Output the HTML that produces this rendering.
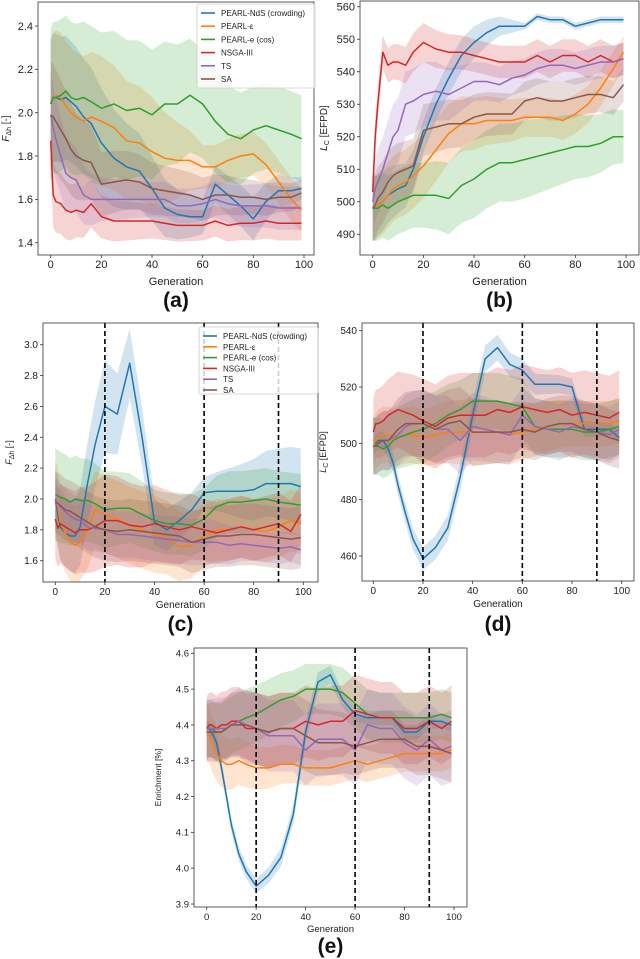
<!DOCTYPE html>
<html><head><meta charset="utf-8">
<style>
html,body{margin:0;padding:0;background:#fff;}
svg{display:block;font-family:"Liberation Sans","DejaVu Sans",sans-serif;}
</style></head>
<body>
<svg id="fig" width="640" height="959" viewBox="0 0 640 959" xmlns="http://www.w3.org/2000/svg"></svg>
<script>
const gens = [0,1,2,4,6,8,10,13,16,20,25,30,35,40,45,50,55,60,65,70,75,80,85,90,95,99];
const bandGens = [0,20,40,60,80,100];
const seriesNames = ["PEARL-NdS (crowding)","PEARL-\u03b5","PEARL-e (cos)","NSGA-III","TS","SA"];
const colors = ["#1f77b4","#ff7f0e","#2ca02c","#d62728","#9467bd","#8c564b"];

// Panel (a)
const aTicks = [1.4,1.6,1.8,2.0,2.2,2.4];
const aBlue   = [2.04,2.07,2.07,2.06,2.07,2.05,2.03,1.98,1.95,1.86,1.79,1.75,1.73,1.65,1.56,1.53,1.52,1.52,1.67,1.62,1.57,1.51,1.59,1.64,1.64,1.65];
const aOrange = [2.04,2.07,2.08,2.07,2.03,2.00,1.98,1.96,1.98,1.96,1.93,1.87,1.86,1.82,1.79,1.78,1.78,1.75,1.75,1.78,1.80,1.81,1.76,1.68,1.60,1.55];
const aGreen  = [2.04,2.07,2.07,2.08,2.10,2.07,2.06,2.07,2.05,2.02,2.04,2.01,2.02,1.99,2.04,2.04,2.08,2.04,1.96,1.90,1.88,1.92,1.94,1.92,1.90,1.88];
const aRed    = [1.87,1.62,1.59,1.58,1.55,1.54,1.55,1.54,1.58,1.52,1.50,1.50,1.50,1.50,1.49,1.48,1.48,1.48,1.50,1.48,1.49,1.49,1.50,1.49,1.49,1.49];
const aPurple = [1.99,1.93,1.88,1.80,1.72,1.70,1.69,1.62,1.60,1.60,1.60,1.60,1.60,1.60,1.60,1.57,1.57,1.58,1.60,1.58,1.57,1.57,1.57,1.56,1.56,1.56];
const aBrown  = [1.99,1.98,1.96,1.92,1.88,1.83,1.80,1.78,1.77,1.67,1.68,1.69,1.68,1.65,1.64,1.63,1.62,1.60,1.62,1.62,1.61,1.61,1.60,1.61,1.61,1.63];
const aSpread = [[.3,.25,.15,.08,.1,.05],[.3,.3,.25,.1,.1,.1],[.35,.35,.3,.25,.2,.2],[.15,.1,.08,.07,.08,.08],[.2,.1,.08,.08,.1,.1],[.25,.15,.12,.1,.08,.06]];

// Panel (b)
const bTicks = [490,500,510,520,530,540,550,560];
const bBlue   = [498,498,499,500,502,503,504,505,510,520,530,538,545,549,552,554,554,554,557,556,556,554,555,556,556,556];
const bOrange = [498,498,499,500,502,504,505,506,508,511,516,521,524,524,525,525,525,526,526,526,525,527,530,535,541,546];
const bGreen  = [498,498,498,499,498,499,500,501,502,502,502,501,505,507,510,512,512,513,514,515,516,517,517,518,520,520];
const bRed    = [503,520,530,546,542,543,543,542,546,549,547,546,546,545,544,543,543,543,545,543,545,545,543,545,543,544];
const bPurple = [500,504,506,510,515,520,522,530,531,533,534,533,535,537,537,536,538,539,541,542,542,541,542,543,543,544];
const bBrown  = [498,499,501,503,506,508,509,510,511,522,523,524,524,526,527,527,527,531,532,531,531,532,533,533,532,536];
const bSpread = [[10,5,5,1,1,1],[10,10,8,6,6,5],[10,10,12,12,10,8],[5,6,5,5,5,5],[10,10,6,5,5,5],[10,8,7,6,6,5]];

// Panel (c)
const cTicks = [1.6,1.8,2.0,2.2,2.4,2.6,2.8,3.0];
const cBlue   = [2.00,1.90,1.82,1.78,1.76,1.76,1.82,2.10,2.35,2.60,2.55,2.88,2.40,1.85,1.80,1.86,1.93,2.04,2.05,2.05,2.05,2.06,2.10,2.10,2.10,2.08];
const cOrange = [2.00,1.95,1.85,1.78,1.72,1.70,1.72,1.80,1.93,1.90,1.87,1.83,1.80,1.77,1.75,1.69,1.70,1.76,1.80,1.80,1.82,1.80,1.79,1.82,1.86,1.84];
const cGreen  = [2.03,2.02,2.01,2.00,1.98,2.00,1.99,1.99,1.97,1.93,1.94,1.94,1.90,1.86,1.84,1.84,1.83,1.87,1.95,1.98,1.98,1.99,2.00,1.98,1.97,1.96];
const cRed    = [1.87,1.81,1.84,1.82,1.80,1.78,1.80,1.80,1.82,1.86,1.86,1.83,1.82,1.84,1.82,1.80,1.82,1.80,1.78,1.80,1.82,1.80,1.82,1.84,1.79,1.90];
const cPurple = [2.00,1.97,1.95,1.92,1.89,1.87,1.86,1.82,1.81,1.80,1.77,1.77,1.76,1.75,1.74,1.73,1.72,1.72,1.72,1.70,1.71,1.70,1.69,1.68,1.69,1.67];
const cBrown  = [1.98,1.97,1.96,1.93,1.92,1.90,1.88,1.85,1.82,1.80,1.79,1.80,1.79,1.78,1.77,1.76,1.72,1.74,1.76,1.76,1.77,1.77,1.76,1.75,1.74,1.75];
const cSpread = [[.2,.3,.15,.1,.2,.25],[.25,.25,.25,.2,.2,.2],[.3,.25,.2,.2,.2,.2],[.25,.3,.25,.2,.2,.2],[.15,.15,.15,.15,.1,.1],[.2,.2,.2,.2,.2,.2]];

// Panel (d)
const dTicks = [460,480,500,520,540];
const dBlue   = [499,500,501,501,498,493,485,475,466,459,463,470,488,510,530,534,528,526,521,521,521,520,505,505,505,502];
const dOrange = [499,501,502,503,503,502,502,503,503,502,503,504,504,504,504,504,503,504,505,506,507,507,507,507,507,508];
const dGreen  = [499,499,499,498,499,501,502,503,504,505,507,510,512,515,515,515,514,513,506,505,505,505,504,504,505,506];
const dRed    = [504,507,507,508,510,511,512,511,510,508,506,509,510,510,510,512,511,513,512,511,512,510,511,510,509,511];
const dPurple = [499,499,500,501,501,502,503,506,507,507,505,505,501,506,505,504,503,510,506,505,504,506,505,504,503,505];
const dBrown  = [499,499,500,501,501,503,505,507,507,507,505,507,508,504,504,504,504,505,504,506,507,507,505,504,502,501];
const dSpread = [[3,4,5,4,3,2],[10,10,12,10,8,8],[10,12,10,10,10,10],[12,15,15,15,15,15],[10,12,12,10,10,10],[10,12,12,10,10,10]];

// Panel (e)
const eTicks = [3.9,4.0,4.1,4.2,4.3,4.4,4.5,4.6];
const eBlue   = [4.39,4.39,4.38,4.35,4.28,4.20,4.12,4.04,3.99,3.95,3.98,4.03,4.15,4.38,4.52,4.54,4.47,4.43,4.42,4.42,4.42,4.38,4.38,4.41,4.41,4.40];
const eOrange = [4.38,4.37,4.35,4.32,4.30,4.29,4.29,4.30,4.29,4.28,4.28,4.29,4.29,4.28,4.28,4.28,4.29,4.30,4.29,4.30,4.31,4.32,4.32,4.32,4.32,4.33];
const eGreen  = [4.39,4.39,4.39,4.38,4.38,4.39,4.40,4.41,4.42,4.43,4.45,4.47,4.48,4.50,4.50,4.50,4.49,4.46,4.43,4.42,4.42,4.42,4.42,4.42,4.43,4.42];
const eRed    = [4.39,4.40,4.40,4.39,4.40,4.40,4.41,4.41,4.39,4.39,4.38,4.39,4.39,4.41,4.40,4.41,4.41,4.44,4.43,4.42,4.42,4.39,4.39,4.41,4.39,4.41];
const ePurple = [4.39,4.39,4.39,4.39,4.39,4.39,4.40,4.41,4.40,4.39,4.37,4.37,4.37,4.33,4.36,4.36,4.36,4.33,4.40,4.39,4.39,4.35,4.33,4.36,4.33,4.34];
const eBrown  = [4.38,4.38,4.38,4.38,4.38,4.39,4.40,4.40,4.40,4.39,4.38,4.39,4.39,4.37,4.35,4.35,4.35,4.34,4.35,4.36,4.36,4.36,4.34,4.34,4.33,4.32];
const eSpread = [[.02,.02,.03,.02,.02,.02],[.08,.06,.05,.05,.05,.05],[.08,.08,.07,.07,.07,.07],[.09,.1,.1,.1,.1,.1],[.08,.1,.1,.1,.1,.1],[.08,.1,.1,.08,.08,.08]];

const xTicks = [0,20,40,60,80,100];
const vLines = [20,60,90];

const NS="http://www.w3.org/2000/svg";
const svg=document.getElementById('fig');
function mk(tag,attrs,parent){const e=document.createElementNS(NS,tag);for(const k in attrs)e.setAttribute(k,attrs[k]);(parent||svg).appendChild(e);return e;}
function interp(xs,ys,x){for(let i=0;i<xs.length-1;i++){if(x<=xs[i+1]){const t=(x-xs[i])/(xs[i+1]-xs[i]);return ys[i]+t*(ys[i+1]-ys[i]);}}return ys[ys.length-1];}

function panel(p){
  const g=mk('g',{});
  
  
  const sx=v=>p.x0+(v-0)/100*(p.x100-p.x0);
  const sy=v=>p.yA+(v-p.vA)/(p.vB-p.vA)*(p.yB-p.yA);
  const clip=mk('clipPath',{id:'clip'+p.id},g);
  mk('rect',{x:p.bx1,y:p.by1,width:p.bx2-p.bx1,height:p.by2-p.by1},clip);
  const plot=mk('g',{'clip-path':'url(#clip'+p.id+')'},g);
  // bands
  p.series.forEach((s,i)=>{
    let up=[],lo=[];
    gens.forEach((x,j)=>{const w=interp(bandGens,p.spread[i],x);up.push(sx(x).toFixed(1)+','+sy(s[j]+w).toFixed(1));lo.push(sx(x).toFixed(1)+','+sy(s[j]-w).toFixed(1));});
    const b=mk('polygon',{points:up.concat(lo.reverse()).join(' '),fill:colors[i],'fill-opacity':0.2,stroke:'none'},plot);
    
    
  });
  p.series.forEach((s,i)=>{
    const pts=gens.map((x,j)=>sx(x).toFixed(1)+','+sy(s[j]).toFixed(1)).join(' ');
    const l=mk('polyline',{points:pts,fill:'none',stroke:colors[i],'stroke-width':1.5,'stroke-linejoin':'round'},plot);
    
    
  });
  if(p.vlines){vLines.forEach(v=>{
    const l=mk('line',{x1:sx(v),x2:sx(v),y1:p.by1,y2:p.by2,stroke:'#000','stroke-width':1.6,'stroke-dasharray':'5,3'},g);
    
    
  });}
  const fr=mk('rect',{x:p.bx1,y:p.by1,width:p.bx2-p.bx1,height:p.by2-p.by1,fill:'none',stroke:'#333','stroke-width':0.8},g);
  
  
  xTicks.forEach(v=>{
    mk('line',{x1:sx(v),x2:sx(v),y1:p.by2,y2:p.by2+3,stroke:'#333','stroke-width':0.8},g);
    const t=mk('text',{x:sx(v),y:p.by2+13,'font-size':p.fs,'text-anchor':'middle',fill:'#222'},g);
    t.textContent=v;
    
    
  });
  p.ticks.forEach(v=>{
    mk('line',{x1:p.bx1-3,x2:p.bx1,y1:sy(v),y2:sy(v),stroke:'#333','stroke-width':0.8},g);
    const t=mk('text',{x:p.bx1-5,y:sy(v)+p.fs*0.35,'font-size':p.fs,'text-anchor':'end',fill:'#222'},g);
    t.textContent=p.fmt(v);
    
    
  });
  const xl=mk('text',{x:(p.bx1+p.bx2)/2,y:p.by2+p.xlOff,'font-size':p.fs,'text-anchor':'middle',fill:'#222'},g);
  xl.textContent='Generation';
  
  
  const yc=(p.by1+p.by2)/2;
  const yl=mk('text',{x:p.ylx,y:yc,'font-size':p.fs-1,'text-anchor':'middle',fill:'#222',transform:'rotate(-90 '+p.ylx+' '+yc+')'},g);
  yl.innerHTML=p.ylabel;
  
  
  const pl=mk('text',{x:(p.bx1+p.bx2)/2,y:p.ply,'font-size':21,'font-weight':'bold','text-anchor':'middle',fill:'#111'},g);
  pl.textContent='('+p.id+')';
  
  
  if(p.legend){
    const L=p.legend;
    const lg=mk('g',{},g);
    
    
    mk('rect',{x:L.x,y:L.y,width:L.w,height:L.h,fill:'#fff','fill-opacity':0.8,stroke:'#ccc','stroke-width':0.8,rx:2},lg);
    seriesNames.forEach((n,i)=>{
      const yy=L.y+9+i*L.dy;
      mk('line',{x1:L.x+4,x2:L.x+18,y1:yy,y2:yy,stroke:colors[i],'stroke-width':1.6},lg);
      const t=mk('text',{x:L.x+24,y:yy+3,'font-size':8,fill:'#222'},lg);
      t.textContent=n;
      
      
    });
  }
}
const fmt1=v=>v.toFixed(1), fmt0=v=>String(v);
const Flab='<tspan font-style="italic">F</tspan><tspan font-size="7" dy="2">\u0394h</tspan><tspan dy="-2"> [-]</tspan>';
const Llab='<tspan font-style="italic">L</tspan><tspan font-size="7" dy="2">C</tspan><tspan dy="-2"> [EFPD]</tspan>';

panel({id:'a',series:[aBlue,aOrange,aGreen,aRed,aPurple,aBrown],spread:aSpread,ticks:aTicks,fmt:fmt1,
  bx1:38,bx2:314,by1:2,by2:255,x0:50.7,x100:304,vA:2.4,yA:26,vB:1.4,yB:242.7,fs:11,xlOff:30,ylx:9,ply:307,ylabel:Flab,
  legend:{x:197,y:4,w:118,h:84,dy:13.2}});
panel({id:'b',series:[bBlue,bOrange,bGreen,bRed,bPurple,bBrown],spread:bSpread,ticks:bTicks,fmt:fmt0,
  bx1:360,bx2:639,by1:1,by2:255,x0:372.7,x100:626,vA:560,yA:6.7,vB:490,yB:234.3,fs:11,xlOff:30,ylx:327,ply:307,ylabel:Llab});
panel({id:'c',series:[cBlue,cOrange,cGreen,cRed,cPurple,cBrown],spread:cSpread,ticks:cTicks,fmt:fmt1,
  bx1:43,bx2:318,by1:323,by2:582,x0:55.3,x100:303.3,vA:3.0,yA:344.7,vB:1.6,yB:560.7,fs:10,xlOff:26,ylx:12,ply:631,ylabel:Flab,vlines:true,
  legend:{x:199,y:327,w:119,h:67,dy:10.8}});
panel({id:'d',series:[dBlue,dOrange,dGreen,dRed,dPurple,dBrown],spread:dSpread,ticks:dTicks,fmt:fmt0,
  bx1:362,bx2:634,by1:323,by2:581,x0:373.3,x100:621.7,vA:540,yA:330.7,vB:460,yB:556,fs:10,xlOff:26,ylx:326,ply:631,ylabel:Llab,vlines:true});
panel({id:'e',series:[eBlue,eOrange,eGreen,eRed,ePurple,eBrown],spread:eSpread,ticks:eTicks,fmt:fmt1,
  bx1:194,bx2:467,by1:648,by2:907,x0:206.7,x100:454,vA:4.6,yA:653.3,vB:3.9,yB:904,fs:9.5,xlOff:25,ylx:161,ply:953,ylabel:'Enrichment [%]',vlines:true});
</script>
</body></html>
